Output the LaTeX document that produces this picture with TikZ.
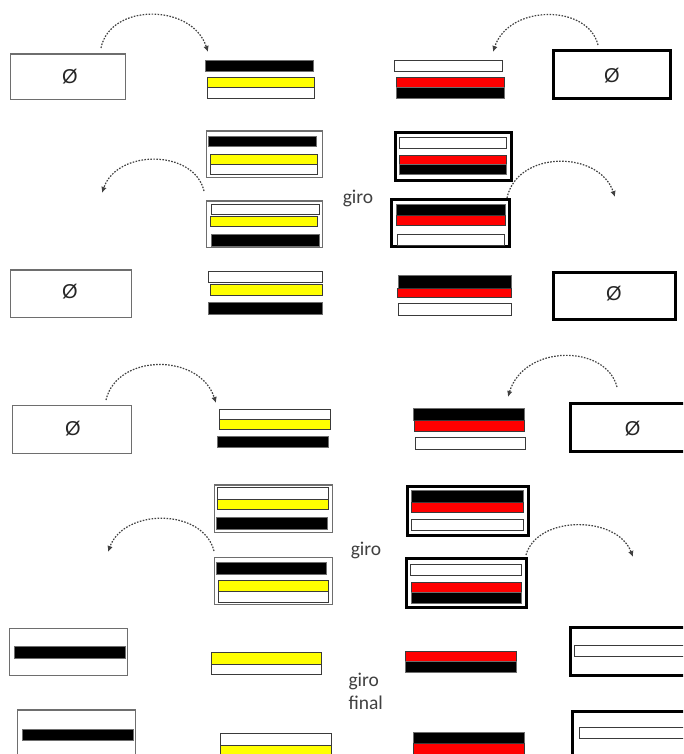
\documentclass[tikz,border=0pt]{standalone}
\usepackage{fontspec}
\setmainfont{Carlito}
\newfontfamily\phifont{Liberation Sans}
\usetikzlibrary{arrows.meta}
\definecolor{edgegray}{HTML}{6E6E6E}
\definecolor{bardark}{HTML}{3A3A3A}
\definecolor{txtgray}{HTML}{404040}
\definecolor{ylw}{HTML}{FFFF00}
\definecolor{rd}{HTML}{FF0000}
\tikzset{
  thinbox/.style={draw=edgegray, line width=1.2pt, fill=white},
  thickbox/.style={draw=black, line width=3pt, fill=white},
  ybar/.style={draw=bardark, line width=0.8pt, fill=ylw},
  wbar/.style={draw=bardark, line width=0.8pt, fill=white},
  rbar/.style={draw=bardark, line width=0.8pt, fill=rd},
  kbar/.style={draw=edgegray, line width=0.8pt, fill=black},
  emptyset/.style={font=\phifont\fontsize{20}{20}\selectfont, text=black!85},
  girolabel/.style={font=\fontsize{19.5}{23}\selectfont, text=txtgray, align=left},
  jump/.style={draw=txtgray, line width=1.2pt, dash pattern=on 1.6pt off 1.4pt,
    -{Latex[length=6pt,width=5.5pt]}},
}
\begin{document}
\begin{tikzpicture}[x=1pt,y=-1pt]
\useasboundingbox (0,0) rectangle (683,754);
\clip (0,0) rectangle (683,754);
\fill[white] (0,0) rectangle (683,754);

% ---------- Row 1 ----------
\draw[thinbox] (10.7,54) rectangle (125.7,99.3);
\node[emptyset] (e1) at (70,76.5) {Ø};
\draw[kbar] (205,60.7) rectangle (313,71);
\draw[ybar] (207,77.7) rectangle (314,87.7);
\draw[wbar] (207,87.7) rectangle (314,98.3);
\draw[wbar] (394.3,60.7) rectangle (502.3,71);
\draw[rbar] (396,77.7) rectangle (504,87.7);
\draw[kbar] (396,87.7) rectangle (504,98.3);
\draw[thickbox] (553.3,51) rectangle (670,98.7);
\node[emptyset] (e2) at (612,75.5) {Ø};

\coordinate (a1s) at (101,48); \coordinate (a1e) at (208,52);
\draw[jump] (a1s) .. controls (110,3) and (192,3) .. (a1e);
\coordinate (a2s) at (598,45); \coordinate (a2e) at (493,52);
\draw[jump] (a2s) .. controls (588,4) and (509,4) .. (a2e);

% ---------- Row 2 ----------
\draw[thinbox] (206.7,131) rectangle (322.3,177.3);
\draw[kbar] (208.3,136) rectangle (316,146.7);
\draw[ybar] (210.7,154) rectangle (317.3,164.3);
\draw[wbar] (210.7,164.3) rectangle (317.3,174.3);

\draw[thinbox] (206.7,201) rectangle (322.3,247.7);
\draw[wbar] (211,204.3) rectangle (319,214.3);
\draw[ybar] (210.3,216.7) rectangle (317.3,226.7);
\draw[kbar] (211,234.3) rectangle (319,246);

\draw[thickbox] (395,132.3) rectangle (511,180);
\draw[wbar] (399,137.7) rectangle (506.7,148.3);
\draw[rbar] (399.3,155) rectangle (506.7,164);
\draw[kbar] (399.3,164) rectangle (506.7,174.3);

\draw[thickbox] (391.7,199) rectangle (509,246.7);
\draw[kbar] (396.7,204.3) rectangle (505,215);
\draw[rbar] (396.7,215) rectangle (505,225);
\draw[wbar] (397.3,234.3) rectangle (504.3,245);

\node[girolabel] (g1) at (358,198) {giro};

\coordinate (a3s) at (204,191); \coordinate (a3e) at (102,193);
\draw[jump] (a3s) .. controls (194,149) and (117,149) .. (a3e);
\coordinate (a4s) at (507,198); \coordinate (a4e) at (615,197);
\draw[jump] (a4s) .. controls (517,150) and (599,150) .. (a4e);

% ---------- Row 3 ----------
\draw[thinbox] (10.7,270) rectangle (131.7,317.3);
\node[emptyset] (e3) at (70,292) {Ø};
\draw[wbar] (208.3,271.7) rectangle (322,282.7);
\draw[ybar] (210.3,284.3) rectangle (322.7,295.3);
\draw[kbar] (208.3,302.7) rectangle (322,314.3);
\draw[kbar] (398.3,275.7) rectangle (511.7,288.3);
\draw[rbar] (397.7,288.3) rectangle (511.7,297.7);
\draw[wbar] (398.3,303.3) rectangle (511.7,315);
\draw[thickbox] (553.3,272.7) rectangle (675,319.3);
\node[emptyset] (e4) at (614,293.5) {Ø};

% ---------- Row 4 ----------
\draw[thinbox] (12.7,405.7) rectangle (131.7,453.3);
\node[emptyset] (e5) at (73,429) {Ø};
\draw[wbar] (219.3,409.3) rectangle (330,419);
\draw[ybar] (219.3,419) rectangle (330,429.3);
\draw[kbar] (217.7,436) rectangle (328.7,447);
\draw[kbar] (413.3,408.3) rectangle (524,420);
\draw[rbar] (414,420) rectangle (524.3,431);
\draw[wbar] (415,437.7) rectangle (525.7,449.3);
\draw[thickbox] (570,403.3) rectangle (695,451.7);
\node[emptyset] (e6) at (632.7,428.3) {Ø};

\coordinate (a5s) at (106,400); \coordinate (a5e) at (216,403);
\draw[jump] (a5s) .. controls (117,353) and (200,353) .. (a5e);
\coordinate (a6s) at (617,387); \coordinate (a6e) at (508,397);
\draw[jump] (a6s) .. controls (606,344) and (524,344) .. (a6e);

% ---------- Row 5 ----------
\draw[thinbox] (214.3,485) rectangle (332.7,532.3);
\draw[wbar] (217.7,487.3) rectangle (328.3,499.3);
\draw[ybar] (217.7,499.3) rectangle (328.3,509.3);
\draw[kbar] (216.7,517.7) rectangle (327.7,529);

\draw[thinbox] (214.3,557.3) rectangle (332.7,604.3);
\draw[kbar] (216,562.7) rectangle (326.7,574);
\draw[ybar] (218.3,580.7) rectangle (328.3,591);
\draw[wbar] (218.3,591) rectangle (328.3,602.3);

\draw[thickbox] (407.7,486) rectangle (528.3,535);
\draw[kbar] (411.7,490.7) rectangle (523.3,502.7);
\draw[rbar] (411.7,502.7) rectangle (523.3,512.7);
\draw[wbar] (411.7,519.3) rectangle (523.3,530.7);

\draw[thickbox] (406,558.3) rectangle (526,607.3);
\draw[wbar] (410,564.3) rectangle (521,575.7);
\draw[rbar] (411,582.3) rectangle (521.7,592.7);
\draw[kbar] (411,592.7) rectangle (521.7,603.3);

\node[girolabel] (g2) at (366,550) {giro};

\coordinate (a7s) at (214,551); \coordinate (a7e) at (108,552);
\draw[jump] (a7s) .. controls (203,508) and (124,508) .. (a7e);
\coordinate (a8s) at (526,555); \coordinate (a8e) at (633,557);
\draw[jump] (a8s) .. controls (537,515) and (617,515) .. (a8e);

% ---------- Row 6 ----------
\draw[thinbox] (9.3,628.3) rectangle (127.7,675.3);
\draw[kbar] (14.3,646.7) rectangle (125.7,658.3);
\draw[ybar] (211,652.7) rectangle (321.7,664);
\draw[wbar] (211,664) rectangle (321.7,674.3);
\draw[rbar] (405,651) rectangle (516,661);
\draw[kbar] (405,661) rectangle (516,672.3);
\draw[thickbox] (570,627.3) rectangle (695,675.7);
\draw[wbar] (574.3,645) rectangle (695,656);

\node[girolabel, anchor=west] (g3) at (345,691) {giro\\final};

% ---------- Row 7 ----------
\draw[thinbox] (17.3,710) rectangle (135.7,765);
\draw[kbar] (22.3,729) rectangle (133.3,740);
\draw[wbar] (220,733.3) rectangle (331,745);
\draw[ybar] (220,745) rectangle (331,765);
\draw[kbar] (413.3,732.7) rectangle (524,743.3);
\draw[rbar] (413.3,743.3) rectangle (524,765);
\draw[thickbox] (572.3,711.7) rectangle (695,765);
\draw[wbar] (579.3,727.3) rectangle (695,738.3);
\end{tikzpicture}
\end{document}
